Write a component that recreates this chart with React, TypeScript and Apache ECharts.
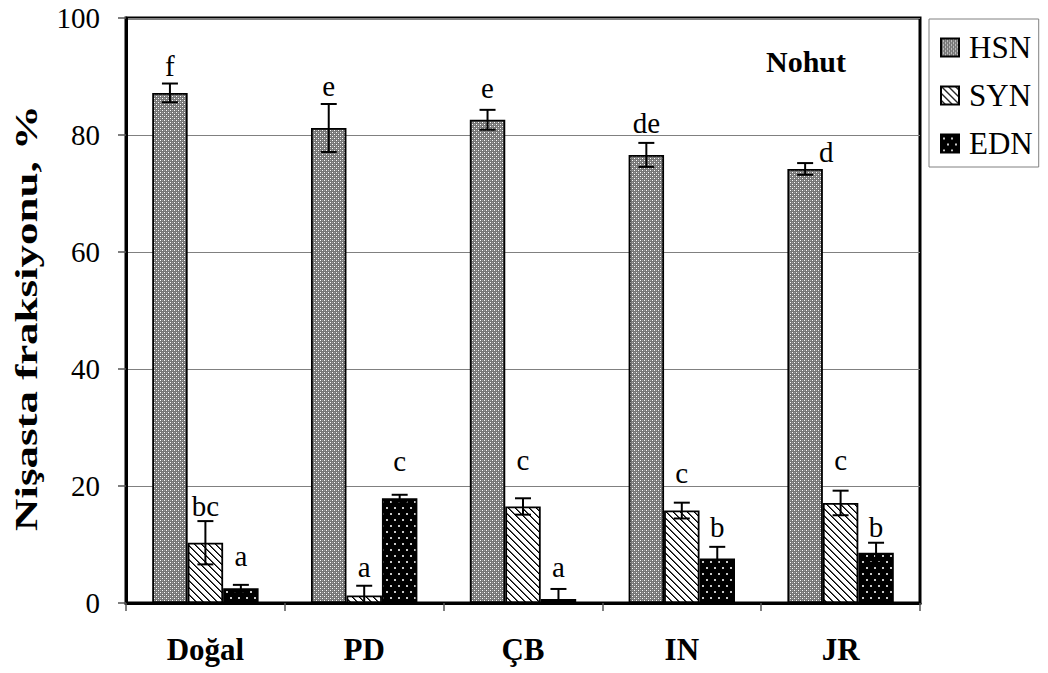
import React, { useEffect, useRef } from "react";
import * as echarts from "echarts";

const categories = ["Doğal", "PD", "ÇB", "IN", "JR"];
const seriesNames = ["HSN", "SYN", "EDN"];
const hsn = [87.2, 81.2, 82.6, 76.6, 74.2];
const hsnErr = [1.6, 4.1, 1.7, 2.05, 1.0];
const syn = [10.3, 1.3, 16.5, 15.8, 17.1];
const synErr = [3.7, 1.65, 1.4, 1.35, 2.1];
const edn = [2.5, 17.9, 0.7, 7.6, 8.6];
const ednErr = [0.6, 0.6, 1.7, 2.0, 1.7];
const hsnLetters = ["f", "e", "e", "de", "d"];
const synLetters = ["bc", "a", "c", "c", "c"];
const ednLetters = ["a", "c", "a", "b", "b"];
const hsnLetterY = [91.8, 88.3, 88.0, 82.1, 77.1];
const synLetterY = [16.6, 6.1, 24.4, 22.3, 24.4];
const ednLetterY = [8.0, 24.2, 6.2, 13.0, 13.0];
const yTicks = [0, 20, 40, 60, 80, 100];
const yTitle = "Nişasta fraksiyonu, %";
const panelTitle = "Nohut";

const FONT = "'Liberation Serif', 'Times New Roman', serif";
const CAT_GAP = 0.33;

function makePattern(w: number, h: number, draw: (ctx: CanvasRenderingContext2D) => void) {
  const c = document.createElement("canvas");
  c.width = w;
  c.height = h;
  const ctx = c.getContext("2d")!;
  draw(ctx);
  return { image: c, repeat: "repeat", imageWidth: w, imageHeight: h };
}

export default function App() {
  const ref = useRef<HTMLDivElement>(null);
  useEffect(() => {
    if (!ref.current) return;
    const chart = echarts.init(ref.current, null, { renderer: "svg" });

    const hsnPat = makePattern(4, 4, (ctx) => {
      ctx.fillStyle = "#767676";
      ctx.fillRect(0, 0, 4, 4);
      ctx.fillStyle = "#ffffff";
      ctx.fillRect(0, 0, 1, 1);
      ctx.fillRect(2, 2, 1, 1);
      ctx.fillStyle = "#a0a0a0";
      ctx.fillRect(2, 0, 1, 1);
      ctx.fillRect(0, 2, 1, 1);
    });
    const synPat = makePattern(7, 7, (ctx) => {
      ctx.fillStyle = "#ffffff";
      ctx.fillRect(0, 0, 7, 7);
      for (let y = 0; y < 7; y++) {
        ctx.fillStyle = "#000000";
        ctx.fillRect(y % 7, y, 1, 1);
        ctx.fillStyle = "#555555";
        ctx.fillRect((y + 1) % 7, y, 1, 1);
      }
    });
    const ednPat = makePattern(8, 12, (ctx) => {
      ctx.fillStyle = "#000000";
      ctx.fillRect(0, 0, 8, 12);
      ctx.fillStyle = "#c8c8c8";
      ctx.fillRect(2, 3, 2, 2);
      ctx.fillRect(6, 9, 2, 2);
    });
    const patterns = [hsnPat, synPat, ednPat];
    const values = [hsn, syn, edn];
    const errs = [hsnErr, synErr, ednErr];
    const letters = [hsnLetters, synLetters, ednLetters];
    const letterYs = [hsnLetterY, synLetterY, ednLetterY];

    const barSeries = seriesNames.map((name, s) => ({
      name,
      type: "bar",
      data: values[s],
      barGap: "0%",
      barCategoryGap: CAT_GAP * 100 + "%",
      itemStyle: { color: patterns[s], borderColor: "#000", borderWidth: 1.8 },
      z: 2,
    }));

    const errSeries = seriesNames.map((name, s) => ({
      type: "custom",
      name: name + "_err",
      silent: true,
      z: 10,
      data: values[s].map((v, i) => [i, v, errs[s][i], letterYs[s][i]]),
      renderItem: (params: any, api: any) => {
        const i = api.value(0);
        const v = api.value(1);
        const e = api.value(2);
        const ly = api.value(3);
        const bw = api.size([1, 0])[0];
        const off = (s - 1) * (bw * (1 - CAT_GAP)) / 3;
        const top = api.coord([i, v + e]);
        const bot = api.coord([i, Math.max(0, v - e)]);
        const x = top[0] + off;
        const hw = 8;
        const lp = api.coord([i, ly]);
        // the "d" label of JR sits to the right of its error bar
        const nudge = s === 0 && params.dataIndex === 4 ? 21 : 0;
        const st = { stroke: "#000", lineWidth: 2 };
        const children: any[] = [
          { type: "line", shape: { x1: x, y1: top[1], x2: x, y2: bot[1] }, style: st },
          { type: "line", shape: { x1: x - hw, y1: top[1], x2: x + hw, y2: top[1] }, style: st },
        ];
        if (v - e > 0) {
          children.push({ type: "line", shape: { x1: x - hw, y1: bot[1], x2: x + hw, y2: bot[1] }, style: st });
        }
        children.push({
          type: "text",
          x: x + nudge,
          y: lp[1],
          style: {
            text: letters[s][params.dataIndex],
            fontSize: 29,
            fontFamily: FONT,
            fill: "#000",
            align: "center",
            verticalAlign: "middle",
          },
        });
        return { type: "group", children };
      },
    }));

    chart.setOption({
      animation: false,
      backgroundColor: "#fff",
      grid: {
        left: 126,
        top: 18,
        right: 128,
        bottom: 70,
        show: true,
        borderColor: "#000",
        borderWidth: 3,
        backgroundColor: "transparent",
      },
      legend: {
        data: seriesNames,
        orient: "vertical",
        left: 929,
        top: 19,
        icon: "rect",
        itemWidth: 18,
        itemHeight: 18,
        itemGap: 17,
        padding: [13, 6, 8, 11],
        borderColor: "#808080",
        borderWidth: 1,
        textStyle: { fontSize: 31, fontFamily: FONT, color: "#000", padding: [0, 0, 0, 5] },
        selectedMode: false,
      },
      xAxis: {
        type: "category",
        data: categories,
        axisLine: { lineStyle: { color: "#000", width: 3 } },
        axisTick: { show: true, length: 8, lineStyle: { color: "#555", width: 1.5 } },
        axisLabel: {
          fontSize: 31,
          fontWeight: "bold",
          fontFamily: FONT,
          color: "#000",
          margin: 31,
        },
      },
      yAxis: {
        type: "value",
        min: yTicks[0],
        max: yTicks[yTicks.length - 1],
        interval: 20,
        axisLine: { show: true, lineStyle: { color: "#000", width: 3 } },
        axisTick: { show: true, length: 8, lineStyle: { color: "#555", width: 1.5 } },
        axisLabel: { fontSize: 29, fontFamily: FONT, color: "#000", margin: 26 },
        splitLine: { show: true, lineStyle: { color: "#808080", width: 1.2 } },
      },
      graphic: [
        {
          type: "text",
          left: 766,
          top: 46,
          style: { text: panelTitle, fontSize: 30, fontWeight: "bold", fontFamily: FONT, fill: "#000" },
        },
        {
          type: "text",
          x: 27,
          y: 318,
          rotation: Math.PI / 2,
          scaleX: 1.45,
          style: {
            text: yTitle,
            fontSize: 31,
            fontWeight: "bold",
            fontFamily: FONT,
            fill: "#000",
            align: "center",
            verticalAlign: "middle",
          },
        },
      ],
      series: [...barSeries, ...errSeries],
    });
    return () => chart.dispose();
  }, []);

  return (
    <div
      ref={ref}
      style={{ position: "fixed", left: 0, top: 0, width: 1048, height: 673, background: "#fff" }}
    />
  );
}
